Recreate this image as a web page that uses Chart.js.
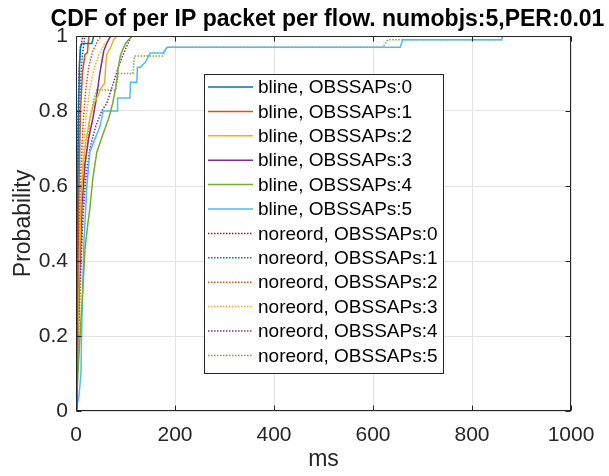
<!DOCTYPE html>
<html>
<head>
<meta charset="utf-8">
<script src="https://cdn.jsdelivr.net/npm/chart.js@4.4.1/dist/chart.umd.min.js"></script>
<style>
  html, body { margin: 0; padding: 0; background: #fff; }
  #wrap { width: 609px; height: 476px; }
</style>
</head>
<body>
<div id="wrap"><canvas id="cdfGraph" width="609" height="476"></canvas></div>
<script>
// Dados: pares [ms, probabilidade]
const bline0 = [[0,0],[1,0.15],[2,0.35],[3,0.55],[5,0.8],[7,0.92],[9,0.97],[12,0.98],[32,0.98],[36,1]];
const bline1 = [[0,0],[2,0.15],[4,0.4],[6,0.6],[9,0.8],[13,0.9],[18,0.95],[23,0.955],[26,1]];
const bline2 = [[0,0],[3,0.15],[6,0.35],[10,0.55],[14,0.65],[20,0.72],[28,0.78],[36,0.82],[44,0.84],[50,0.86],[58,0.875],[60,0.92],[62,0.95],[70,0.97],[76,0.99],[83,1]];
const bline3 = [[0,0],[3,0.15],[7,0.35],[12,0.55],[18,0.66],[26,0.73],[34,0.78],[42,0.84],[48,0.9],[52,0.93],[56,0.96],[62,0.98],[70,1]];
const bline4 = [[0,0],[4,0.1],[9,0.22],[14,0.33],[18,0.43],[24,0.5],[28,0.54],[34,0.62],[42,0.69],[55,0.74],[66,0.78],[74,0.82],[80,0.86],[86,0.92],[90,0.95],[100,0.98],[113,1]];
const bline5 = [[0,0],[6,0.04],[10,0.1],[12,0.25],[16,0.45],[22,0.6],[28,0.69],[35,0.715],[48,0.757],[55,0.8],[83,0.8],[84,0.835],[109,0.835],[110,0.877],[123,0.877],[124,0.917],[130,0.917],[140,0.93],[150,0.955],[176,0.955],[184,0.97],[655,0.97],[660,0.99],[860,0.99],[862,1]];
const noreord0 = [[0,0],[1,0.2],[2,0.45],[4,0.75],[6,0.9],[9,0.97],[14,1]];
const noreord1 = [[0,0],[2,0.2],[4,0.45],[6,0.7],[9,0.88],[13,0.95],[18,1]];
const noreord2 = [[0,0],[3,0.2],[6,0.45],[10,0.65],[15,0.78],[20,0.86],[26,0.92],[34,0.96],[45,0.99],[52,1]];
const noreord3 = [[0,0],[3,0.15],[6,0.35],[10,0.55],[14,0.68],[20,0.78],[28,0.86],[36,0.91],[46,0.95],[58,0.98],[72,1]];
const noreord4 = [[0,0],[3,0.15],[8,0.35],[14,0.52],[20,0.62],[28,0.7],[40,0.76],[52,0.8],[62,0.82],[72,0.86],[85,0.915],[95,0.95],[105,0.98],[112,1]];
const noreord5 = [[0,0],[3,0.12],[8,0.3],[12,0.45],[16,0.58],[22,0.7],[28,0.78],[36,0.83],[42,0.856],[80,0.856],[86,0.9],[115,0.9],[118,0.947],[175,0.947],[184,0.97],[620,0.97],[630,0.99],[860,0.99],[862,1]];

const labels = ["bline, OBSSAPs:0", "bline, OBSSAPs:1", "bline, OBSSAPs:2", "bline, OBSSAPs:3", "bline, OBSSAPs:4", "bline, OBSSAPs:5",
                "noreord, OBSSAPs:0", "noreord, OBSSAPs:1", "noreord, OBSSAPs:2", "noreord, OBSSAPs:3", "noreord, OBSSAPs:4", "noreord, OBSSAPs:5"];
const series = [bline0, bline1, bline2, bline3, bline4, bline5, noreord0, noreord1, noreord2, noreord3, noreord4, noreord5];
const cores = ['#0072BD', '#D95319', '#EDB120', '#7E2F8E', '#77AC30', '#4DBEEE',
               '#A2142F', '#0072BD', '#D95319', '#EDB120', '#7E2F8E', '#77AC30'];
const xTicks = [0, 200, 400, 600, 800, 1000];
const yTicks = [0, 0.2, 0.4, 0.6, 0.8, 1];

const tituloTexto = "CDF of per IP packet per flow. numobjs:5,PER:0.01";
const texto = '#262626';

Chart.defaults.font.family = '"Liberation Sans", Arial, sans-serif';
Chart.defaults.color = texto;

// Titulo, caixa dos eixos e legenda desenhados à moda do MATLAB
const matlabPlugin = {
    id: 'matlab',
    afterDraw(chart) {
        const ctx = chart.ctx;
        const a = chart.chartArea;
        const sx = chart.scales.x, sy = chart.scales.y;
        ctx.save();

        // caixa
        ctx.strokeStyle = '#262626';
        ctx.lineWidth = 1;
        const L = Math.round(a.left) + 0.5, R = Math.round(a.right) - 0.5;
        const T = Math.round(a.top) + 0.5, B = Math.round(a.bottom) - 0.5;
        ctx.strokeRect(L, T, R - L, B - T);

        // ticks para dentro
        ctx.beginPath();
        xTicks.forEach(v => {
            const px = Math.round(sx.getPixelForValue(v)) + 0.5;
            ctx.moveTo(px, B); ctx.lineTo(px, B - 5);
            ctx.moveTo(px, T); ctx.lineTo(px, T + 5);
        });
        yTicks.forEach(v => {
            const py = Math.round(sy.getPixelForValue(v)) + 0.5;
            ctx.moveTo(L, py); ctx.lineTo(L + 5, py);
            ctx.moveTo(R, py); ctx.lineTo(R - 5, py);
        });
        ctx.stroke();

        // titulo
        ctx.fillStyle = '#000';
        ctx.font = 'bold 23px "Liberation Sans", Arial, sans-serif';
        ctx.textAlign = 'center';
        ctx.textBaseline = 'alphabetic';
        ctx.fillText(tituloTexto, (a.left + a.right) / 2 + 4, 26);

        // legenda
        const lx = a.left + 128, ly = a.top + 38, lw = 239, lh = 299;
        ctx.fillStyle = '#fff';
        ctx.fillRect(lx, ly, lw, lh);
        ctx.strokeStyle = '#262626';
        ctx.strokeRect(Math.round(lx) + 0.5, Math.round(ly) + 0.5, lw, lh);
        ctx.font = '19px "Liberation Sans", Arial, sans-serif';
        ctx.textAlign = 'left';
        ctx.textBaseline = 'middle';
        chart.data.datasets.forEach((ds, i) => {
            const y = ly + 13 + i * 24.4;
            ctx.strokeStyle = ds.borderColor;
            ctx.lineWidth = 1.5;
            ctx.setLineDash(ds.borderDash || []);
            ctx.beginPath();
            ctx.moveTo(lx + 4, y); ctx.lineTo(lx + 49, y);
            ctx.stroke();
            ctx.setLineDash([]);
            ctx.fillStyle = '#000';
            ctx.fillText(ds.label, lx + 54, y + 1);
        });
        ctx.restore();
    }
};

const ctx = document.getElementById('cdfGraph').getContext('2d');

const cdfGraph = new Chart(ctx, {
    type: 'line',
    data: {
        datasets: series.map((s, i) => ({
            label: labels[i],
            data: s.map(p => ({ x: p[0], y: p[1] })),
            borderColor: cores[i],
            borderWidth: 1.5,
            borderDash: i >= 6 ? [1.5, 1.5] : [],
            pointRadius: 0,
            tension: 0,
            fill: false
        }))
    },
    options: {
        responsive: false,
        animation: false,
        devicePixelRatio: 1,
        layout: { padding: { top: 36, right: 38, left: 0, bottom: 0 } },
        plugins: {
            legend: { display: false },
            title: { display: false },
            tooltip: { enabled: false }
        },
        scales: {
            x: {
                type: 'linear',
                min: 0,
                max: 1000,
                afterFit: s => { s.height = 65; },
                ticks: { stepSize: 200, font: { size: 21 }, padding: 12, color: texto, maxRotation: 0,
                         callback: v => String(v) },
                grid: { color: '#e3e3e3', drawTicks: false },
                border: { display: false },
                title: { display: true, text: 'ms', font: { size: 23 }, color: texto, padding: { top: 0, bottom: 3 } }
            },
            y: {
                type: 'linear',
                min: 0,
                max: 1,
                afterFit: s => { s.width = 76; },
                ticks: { stepSize: 0.2, font: { size: 21 }, padding: 8, color: texto,
                         callback: v => String(Number(v.toFixed(1))) },
                grid: { color: '#e3e3e3', drawTicks: false },
                border: { display: false },
                title: { display: true, text: 'Probability', font: { size: 23 }, color: texto, padding: { top: 10, bottom: 0 } }
            }
        }
    },
    plugins: [matlabPlugin]
});
</script>
</body>
</html>
